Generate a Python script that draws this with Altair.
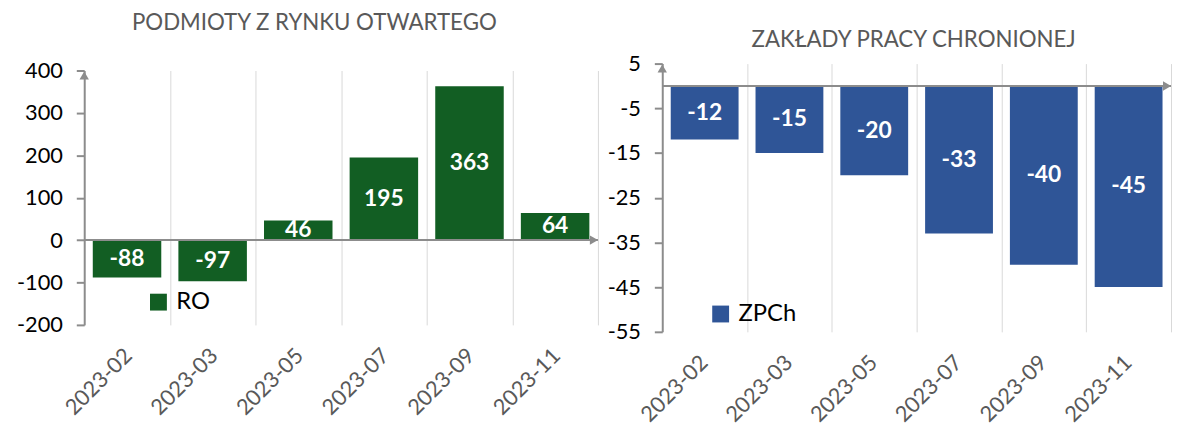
import altair as alt
import pandas as pd

cats = ["2023-02", "2023-03", "2023-05", "2023-07", "2023-09", "2023-11"]
ro_vals = [-88, -97, 46, 195, 363, 64]
zpch_vals = [-12, -15, -20, -33, -40, -45]
left_title = "PODMIOTY Z RYNKU OTWARTEGO"
right_title = "ZAKŁADY PRACY CHRONIONEJ"
left_ticks = [-200, -100, 0, 100, 200, 300, 400]
right_ticks = [-55, -45, -35, -25, -15, -5, 5]

GREEN = "#125E23"
BLUE = "#2F5597"
AXIS = "#8C8C8C"
FONT = "Lato"


def panel(values, series, color, title, ticks, w, h, lx, ly, toff, tdx, loff):
    df = pd.DataFrame({"month": cats, "value": values, "series": series,
                       "label": [str(v) for v in values]})
    base = alt.Chart(df)
    x = alt.X("month:N", sort=cats,
              scale=alt.Scale(paddingInner=0, paddingOuter=0),
              axis=alt.Axis(title=None, labelAngle=-45, labelAlign="right",
                            labelBaseline="top", labelPadding=20, labelOffset=loff,
                            labelFontSize=22, labelColor="#595959", labelFont=FONT,
                            domain=False, ticks=False, grid=True, gridColor="#D9D9D9",
                            gridWidth=1, tickBand="extent"))
    y = alt.Y("value:Q",
              scale=alt.Scale(domain=[ticks[0], ticks[-1]], nice=False, zero=False),
              axis=alt.Axis(title=None, values=ticks, labelExpr="'' + datum.value",
                            labelFontSize=22, labelColor="black", labelFont=FONT,
                            domainColor=AXIS, domainWidth=2, tickColor=AXIS,
                            tickWidth=2, tickSize=8, labelPadding=14, grid=False))
    bars = base.mark_bar(width=alt.RelativeBandSize(0.8)).encode(
        x=x, y=y,
        color=alt.Color("series:N", scale=alt.Scale(domain=[series], range=[color]),
                        legend=alt.Legend(orient="none", legendX=lx, legendY=ly,
                                          title=None, symbolType="square",
                                          symbolSize=290, symbolStrokeWidth=0,
                                          labelFontSize=24, labelFont=FONT,
                                          labelColor="black", labelOffset=6)))
    texts = base.transform_calculate(mid="datum.value / 2").mark_text(
        color="white", fontWeight="bold", fontSize=23, font=FONT, baseline="middle"
    ).encode(x=alt.X("month:N", sort=cats), y=alt.Y("mid:Q"), text="label:N")
    zdf = pd.DataFrame({"z": [0], "top": [ticks[-1]]})
    zero = alt.Chart(zdf).mark_rule(color=AXIS, strokeWidth=2).encode(
        y=alt.Y("z:Q"), x=alt.value(0), x2=alt.value(w))
    xarrow = alt.Chart(zdf).mark_point(shape="triangle-right", filled=True,
                                        color=AXIS, size=90, opacity=1, xOffset=-4).encode(
        y=alt.Y("z:Q"), x=alt.value(w))
    yarrow = alt.Chart(zdf).mark_point(shape="triangle-up", filled=True,
                                        color=AXIS, size=90, opacity=1, yOffset=5).encode(
        y=alt.Y("top:Q"), x=alt.value(0))
    return alt.layer(bars, texts, zero, xarrow, yarrow).properties(
        width=w, height=h,
        title=alt.TitleParams(title, fontSize=22.5, color="#595959", font=FONT,
                              fontWeight="normal", anchor="middle", offset=toff, dx=tdx))


left = panel(ro_vals, "RO", GREEN, left_title, left_ticks, 519, 257, 63, 222, 25, -27, -6)
right = panel(zpch_vals, "ZPCh", BLUE, right_title, right_ticks, 514, 271, 47, 241, 1, -3, -8)

chart = alt.hconcat(left, right, spacing=65, bounds="flush", center=True).resolve_scale(
    color="independent"
).resolve_legend(color="independent").properties(
    padding={"left": 8, "top": 2, "right": 0, "bottom": 0}
).configure_view(stroke=None)

chart.save("out.html", embed_options={"renderer": "svg", "actions": False})
